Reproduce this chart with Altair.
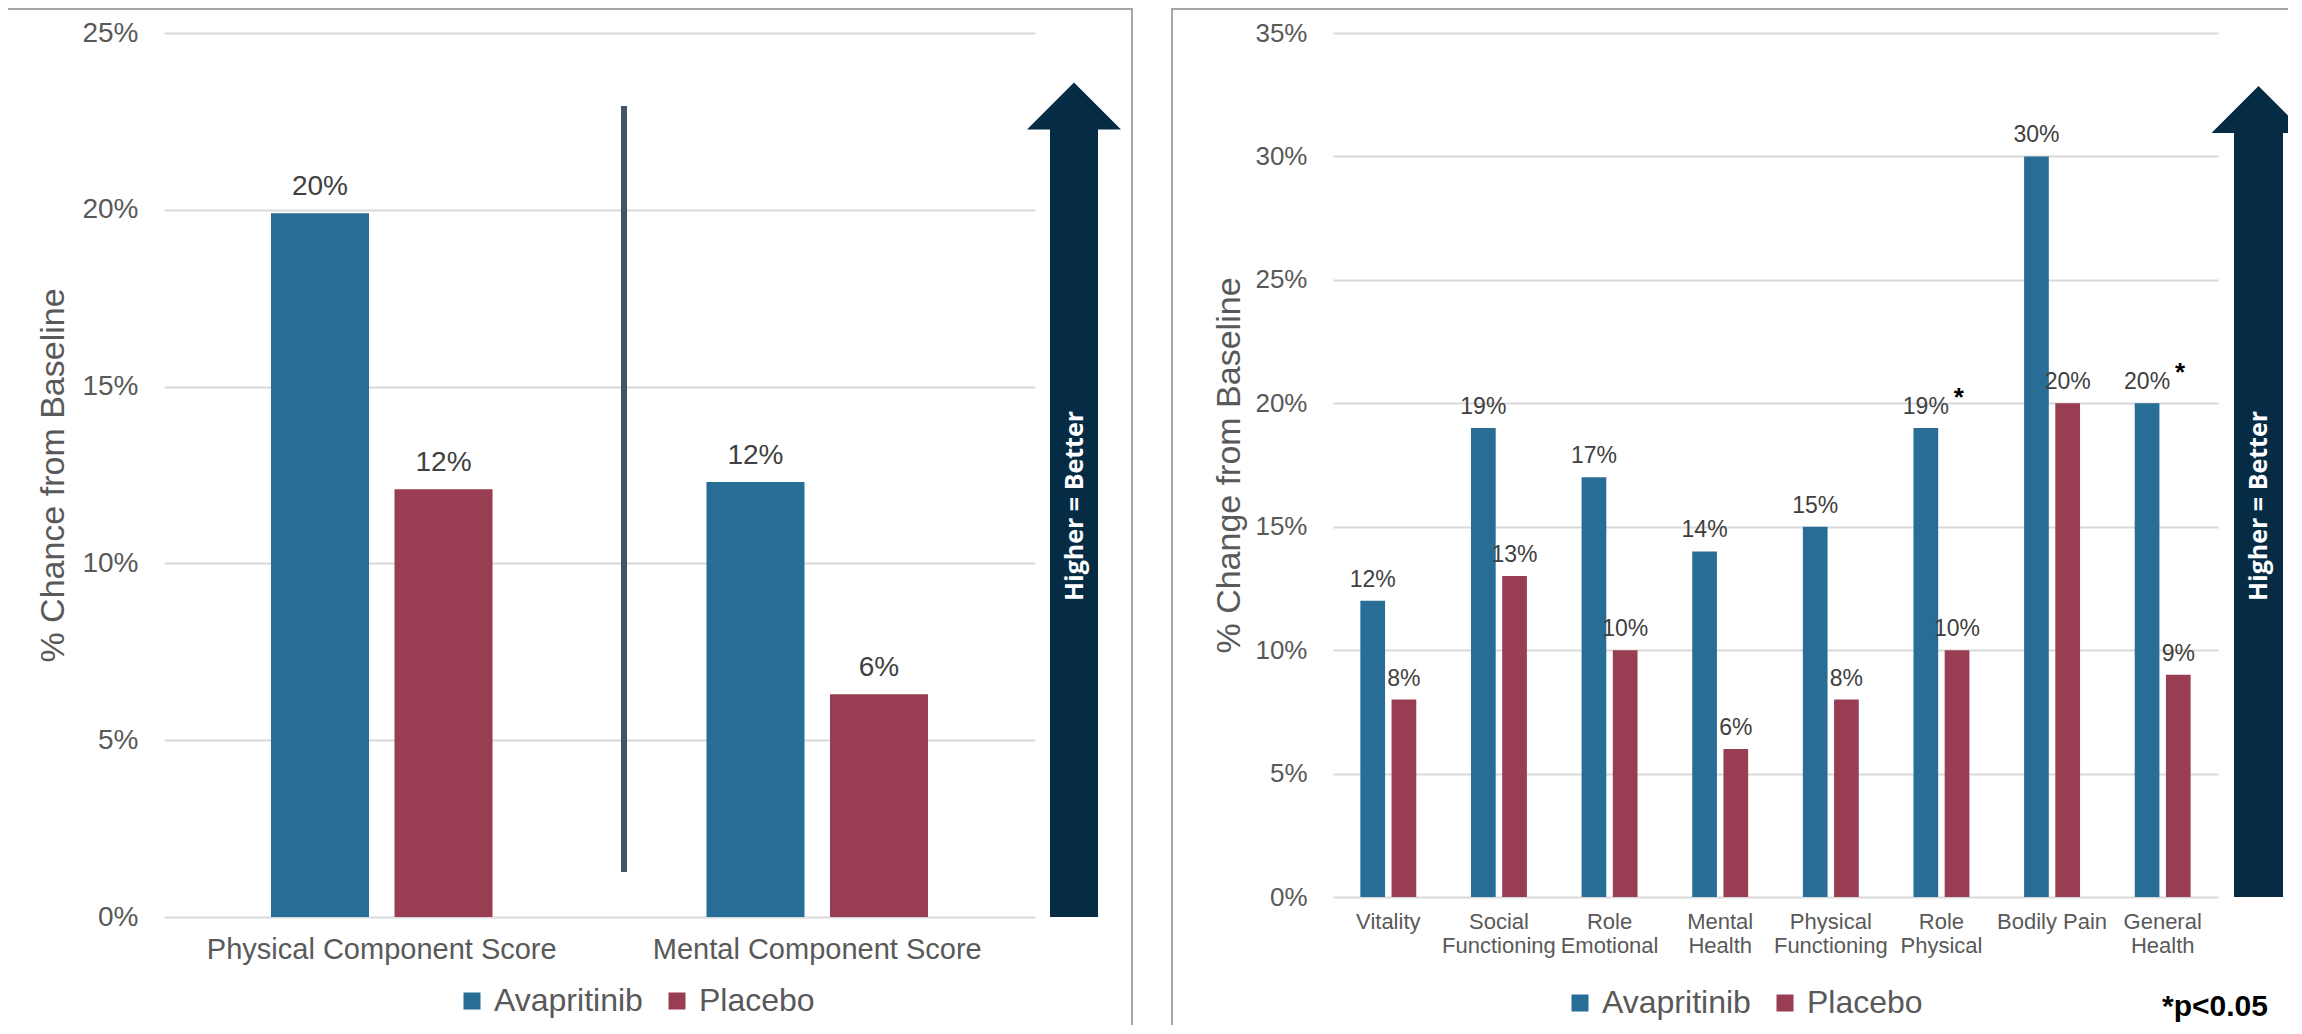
import altair as alt
import pandas as pd

FONT = "Liberation Sans"
series = ["Avapritinib", "Placebo"]
colors = ["#286D96", "#983D52"]

left_categories = ["Physical Component Score", "Mental Component Score"]
left_avapritinib = [19.9, 12.3]
left_placebo = [12.1, 6.3]
left_ticks = [0, 5, 10, 15, 20, 25]

right_categories = ["Vitality", "Social Functioning", "Role Emotional", "Mental Health",
                    "Physical Functioning", "Role Physical", "Bodily Pain", "General Health"]
right_avapritinib = [12, 19, 17, 14, 15, 19, 30, 20]
right_placebo = [8, 13, 10, 6, 8, 10, 20, 9]
right_ticks = [0, 5, 10, 15, 20, 25, 30, 35]
significant = ["Role Physical", "General Health"]


def long_df(cats, a, p):
    rows = []
    for c, va, vp in zip(cats, a, p):
        rows.append({"category": c, "series": series[0], "value": va})
        rows.append({"category": c, "series": series[1], "value": vp})
    return pd.DataFrame(rows)


left_df = long_df(left_categories, left_avapritinib, left_placebo)
right_df = long_df(right_categories, right_avapritinib, right_placebo)
sig_df = right_df[(right_df["category"].isin(significant)) & (right_df["series"] == series[0])]
one = pd.DataFrame({"k": [0]})

GRID = "#D9D9D9"
TXT = "#595959"
ARROW = "#062B45"


def build_panel(df, cats, ticks, ymax, W, H, title, tick_fs, xlab_fs, data_fs, dy_lab,
                title_x, off_pi, off_po, legend_x, legend_y, frame, arrow, xlabel_extra):
    xs = alt.X("category:N", sort=cats, scale=alt.Scale(paddingInner=0, paddingOuter=0),
               axis=alt.Axis(title=None, labelAngle=0, labelFontSize=xlab_fs, labelColor=TXT,
                             labelFont=FONT, ticks=False, domain=False, grid=False, labelLimit=600,
                             **xlabel_extra))
    ys = alt.Y("value:Q", scale=alt.Scale(domain=[0, ymax], nice=False),
               axis=alt.Axis(values=ticks, labelExpr="datum.value + '%'", title=title,
                             titleFontSize=34, titleFont=FONT, titleColor=TXT, titleFontWeight="normal",
                             titleX=title_x, titleY=H / 2, titleAngle=270, titleBaseline="middle",
                             titleAlign="center",
                             grid=True, gridColor=GRID, gridWidth=2, domain=False, ticks=False,
                             labelPadding=26, labelFontSize=tick_fs, labelColor=TXT, labelFont=FONT))
    xo = alt.XOffset("series:N", sort=series,
                     scale=alt.Scale(domain=series, paddingInner=off_pi, paddingOuter=off_po))
    col = alt.Color("series:N", sort=series, scale=alt.Scale(domain=series, range=colors),
                    legend=alt.Legend(title=None, orient="none", legendX=legend_x, legendY=legend_y,
                                      direction="horizontal", symbolType="square", symbolSize=289,
                                      symbolStrokeWidth=0, labelFontSize=32, labelFont=FONT,
                                      labelColor=TXT, labelOffset=6, columnPadding=18, padding=0))

    fx1, fx2, fy1, fy2 = frame
    frame_l = alt.Chart(one).mark_rect(fillOpacity=0, stroke="#A6A6A6", strokeWidth=2).encode(
        x=alt.value(fx1), x2=alt.value(fx2), y=alt.value(fy1), y2=alt.value(fy2))
    bars = alt.Chart(df).mark_bar().encode(x=xs, xOffset=xo, y=ys, color=col)
    labels = alt.Chart(df).transform_calculate(
        label="format(datum.value, '.0f') + '%'"
    ).mark_text(dy=dy_lab, baseline="alphabetic", fontSize=data_fs, color="#404040", font=FONT).encode(
        x=xs, xOffset=xo, y=ys, text="label:N")

    sx1, sx2, sy1, hx, hy, tx, ty = arrow
    shaft = alt.Chart(one).mark_rect(color=ARROW).encode(
        x=alt.value(sx1), x2=alt.value(sx2), y=alt.value(sy1), y2=alt.value(H))
    head = alt.Chart(one).mark_point(shape="M-1,0.5L0,-0.5L1,0.5Z", filled=True, opacity=1,
                                     color=ARROW, size=8836, strokeWidth=0).encode(
        x=alt.value(hx), y=alt.value(hy))
    atext = alt.Chart(one).mark_text(angle=270, font="Open Sans", fontWeight="bold", fontSize=25,
                                     color="white", align="center", baseline="middle").encode(
        x=alt.value(tx), y=alt.value(ty), text=alt.value("Higher = Better"))
    return [frame_l, bars, labels, shaft, head, atext], xs, xo, ys


# Left panel (plot area: x 164..1035, y 33..917 on the page)
LW, LH = 871, 884
left_layers, lxs, lxo, lys = build_panel(
    left_df, left_categories, left_ticks, 25, LW, LH, "% Chance from Baseline", 28, 29, 28, -18,
    -111, 0.2065, 0.866, 292, 952, (-163, 968, -24, 1010),
    (886, 934, 94, 910, 73, 911, 473), {"labelPadding": 18})
divider = alt.Chart(one).mark_rule(color="#44546A", strokeWidth=6).encode(
    x=alt.value(460), y=alt.value(73), y2=alt.value(839))
left = alt.layer(*left_layers, divider).properties(width=LW, height=LH)

# Right panel (plot area: x 1333..2218, y 33..897 on the page)
RW, RH = 885, 864
right_layers, rxs, rxo, rys = build_panel(
    right_df, right_categories, right_ticks, 35, RW, RH, "% Change from Baseline", 26, 22, 23, -14,
    -104, 0.208, 0.876, 231, 954, (-161, 990, -24, 1030),
    (901, 950, 98, 925.5, 76.5, 926, 473),
    {"labelPadding": 14, "labelLineHeight": 24,
     "labelExpr": "datum.label == 'Bodily Pain' ? datum.label : split(datum.label, ' ')"})
stars = alt.Chart(sig_df).mark_text(text="*", dx=33, dy=-22, baseline="alphabetic", fontSize=26,
                                    fontWeight="bold", color="black", font=FONT).encode(
    x=rxs, xOffset=rxo, y=rys)
pnote = alt.Chart(one).mark_text(fontSize=30, fontWeight="bold", color="black", font=FONT,
                                 align="center", baseline="alphabetic").encode(
    x=alt.value(882), y=alt.value(983), text=alt.value("*p<0.05"))
right = alt.layer(*right_layers, stars, pnote).properties(width=RW, height=RH)

chart = alt.hconcat(left, right, spacing=298, bounds="flush").resolve_scale(
    color="independent", xOffset="independent"
).resolve_legend(color="independent").properties(
    padding={"left": 156, "top": 25, "right": 2124, "bottom": 992},
    autosize=alt.AutoSizeParams(type="none"),
    background="white"
).configure_view(stroke="transparent")

chart.save("out.html", embed_options={"renderer": "svg", "actions": False})
